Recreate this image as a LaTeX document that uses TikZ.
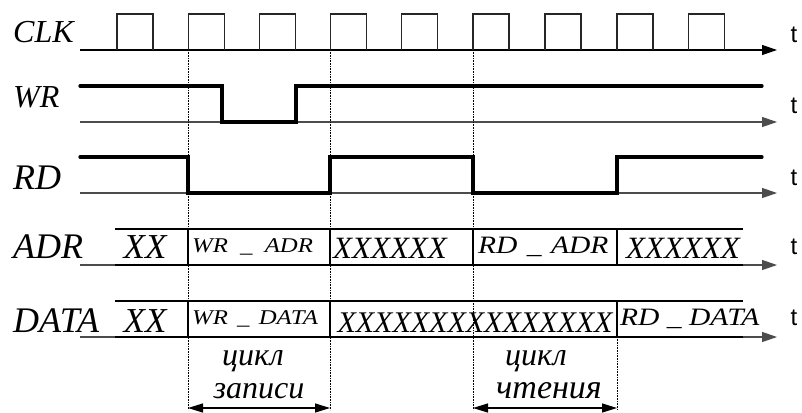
\documentclass[tikz,border=0pt]{standalone}
\usepackage{fontspec}
\setmainfont{Liberation Serif}
\setsansfont{Liberation Sans}
\newfontfamily\widefont[FakeStretch=1.18]{Liberation Serif}
\usetikzlibrary{arrows.meta}
\begin{document}
\begin{tikzpicture}[x=1pt,y=-1pt,
  axis/.style={line width=1.2pt,draw=black!70,-{Triangle[length=15pt,width=10pt]}},
  clkline/.style={line width=1.8pt,draw=black!85},
  sig/.style={line width=3.3pt,line cap=round,line join=miter},
  boxline/.style={line width=1.6pt},
  guide/.style={densely dotted,line width=0.6pt},
  cyc/.style={line width=1.3pt,{Triangle[length=15pt,width=9pt]}-{Triangle[length=15pt,width=9pt]}},
  lbl/.style={anchor=base west,inner sep=0pt,font=\fontsize{32}{32}\selectfont\itshape},
  biglbl/.style={anchor=base west,inner sep=0pt,font=\fontsize{36}{36}\selectfont\itshape},
  xx/.style={anchor=base,inner sep=0pt,font=\fontsize{31}{31}\selectfont\itshape},
  bigxx/.style={anchor=base,inner sep=0pt,font=\fontsize{35}{35}\selectfont\itshape},
  small/.style={anchor=base west,inner sep=0pt,font=\fontsize{21}{21}\widefont\itshape},
  rdsmall/.style={anchor=base west,inner sep=0pt,font=\fontsize{25}{25}\widefont\itshape},
  tlab/.style={inner sep=0pt,font=\fontsize{24}{24}\selectfont\sffamily},
  cyr/.style={anchor=base,inner sep=0pt,font=\fontsize{32}{32}\selectfont\itshape}]
\useasboundingbox (0,0) rectangle (802,412);
% labels
\node[lbl] (lclk) at (13,43) {CLK};
\node[lbl] (lwr) at (13,107) {WR};
\node[biglbl] (lrd) at (13,189) {RD};
\node[biglbl] (ladr) at (13,258) {ADR};
\node[biglbl] (ldata) at (13,332) {DATA};
% t labels
\node[tlab] (t1) at (794,35) {t};
\node[tlab] (t2) at (794,106) {t};
\node[tlab] (t3) at (794,178) {t};
\node[tlab] (t4) at (794,247) {t};
\node[tlab] (t5) at (794,318) {t};
% axes
\coordinate (a1s) at (80,50);  \coordinate (a1e) at (777,50);
\coordinate (a2s) at (80,122); \coordinate (a2e) at (777,122);
\coordinate (a3s) at (80,193); \coordinate (a3e) at (777,193);
\coordinate (a4s) at (80,265); \coordinate (a4e) at (777,265);
\coordinate (a5s) at (80,337); \coordinate (a5e) at (777,337);
\draw[axis,draw=black] (a1s) -- (a1e);
\draw[axis] (a2s) -- (a2e);
\draw[axis] (a3s) -- (a3e);
\draw[axis] (a4s) -- (a4e);
\draw[axis] (a5s) -- (a5e);
% clock
\foreach \x in {117,188.5,259.5,330.5,401.5,473,545,617,688.5}{
  \draw[clkline] (\x,50) -- (\x,14) -- (\x+36,14) -- (\x+36,50);
}
% WR
\draw[sig] (80,86) -- (222,86) -- (222,122) -- (296,122) -- (296,86) -- (762,86);
% RD
\draw[sig] (80,157) -- (188,157) -- (188,193) -- (330,193) -- (330,157) -- (473,157) -- (473,193) -- (617,193) -- (617,157) -- (762,157);
% guides
\draw[guide] (188,50) -- (188,410);
\draw[guide] (330,50) -- (330,410);
\draw[guide] (473,50) -- (473,410);
\draw[guide] (617,337) -- (617,410);
% ADR bus
\draw[boxline] (115,229) -- (743,229);
\draw[boxline] (115,265) -- (743,265);
\foreach \x in {188,330,473,617}{\draw[boxline] (\x,229) -- (\x,265);}
\node[bigxx] (ax1) at (145,258) {XX};
\node[small] (ax2) at (192,252) {WR\hspace{6pt} \_ \hspace{6pt}ADR};
\node[xx] (ax3) at (390,258) {XXXXXX};
\node[rdsmall] (ax4) at (478,253) {RD\hspace{2pt} \_ \hspace{2pt}ADR};
\node[xx] (ax5) at (683,258) {XXXXXX};
% DATA bus
\draw[boxline] (115,301) -- (743,301);
\draw[boxline] (115,337) -- (743,337);
\foreach \x in {188,330,617}{\draw[boxline] (\x,301) -- (\x,337);}
\node[bigxx] (dx1) at (145,332) {XX};
\node[small] (dx2) at (192,324) {WR\hspace{3pt} \_ \hspace{3pt}DATA};
\node[xx,font=\fontsize{30}{30}\selectfont\itshape] (dx3) at (475,332) {XXXXXXXXXXXXXXX};
\node[rdsmall] (dx4) at (620,325) {RD \_ DATA};
% cycles
\coordinate (c1s) at (188,408); \coordinate (c1e) at (330,408);
\coordinate (c2s) at (473,408); \coordinate (c2e) at (617,408);
\draw[cyc] (c1s) -- (c1e);
\draw[cyc] (c2s) -- (c2e);
\node[cyr] (w1) at (253,365) {цикл};
\node[cyr] (w2) at (259,398) {записи};
\node[cyr] (r1) at (536,365) {цикл};
\node[cyr,font=\fontsize{34}{34}\selectfont\itshape] (r2) at (549,398) {чтения};
\end{tikzpicture}
\end{document}
